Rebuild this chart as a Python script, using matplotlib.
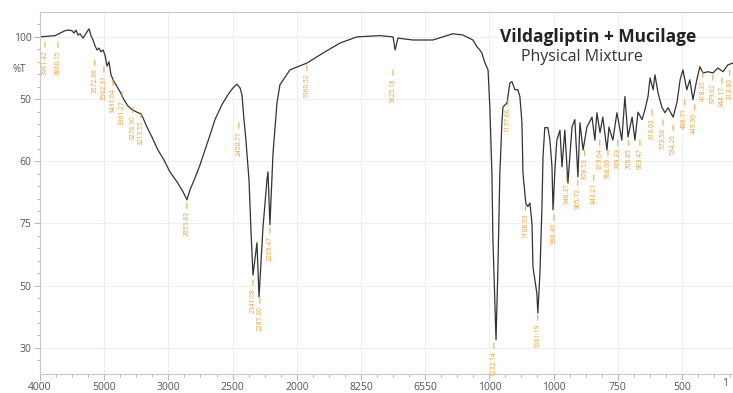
import numpy as np
import matplotlib.pyplot as plt

plt.rcParams['font.family'] = ['Open Sans', 'DejaVu Sans']

# spectrum (wavenumber in 1/cm, transmittance in %T)
wavenumber = [4000, 3883, 3844, 3805, 3782, 3751, 3735, 3720, 3704, 3688, 3665, 3650, 3634, 3618,
              3603, 3587, 3572, 3556, 3541, 3525, 3509, 3494, 3478, 3463, 3447, 3431, 3408, 3377,
              3346, 3315, 3283, 3245, 3213, 3198, 3167, 3128, 3081, 3034, 2988, 2933, 2886, 2855,
              2832, 2793, 2754, 2715, 2676, 2637, 2583, 2536, 2497, 2466, 2442, 2427, 2411, 2396,
              2372, 2357, 2341, 2310, 2294, 2263, 2232, 2224, 2209, 2185, 2154, 2131, 2053, 1960,
              1898, 1832, 1766, 1676, 1625, 1617, 1606, 1548, 1470, 1392, 1353, 1314, 1298, 1287,
              1279, 1267, 1255, 1248, 1240, 1236, 1228, 1224, 1217, 1209, 1201, 1197, 1181, 1170,
              1162, 1150, 1139, 1131, 1123, 1119, 1108, 1100, 1092, 1084, 1080, 1065, 1061, 1053,
              1045, 1041, 1034, 1022, 1014, 1006, 1002, 994, 987, 975, 967, 956, 944, 928,
              917, 905, 897, 885, 870, 850, 839, 831, 819, 808, 792, 784, 769, 753,
              734, 722, 710, 694, 683, 671, 655, 644, 632, 624, 612, 605, 593, 578,
              566, 554, 534, 519, 507, 496, 481, 469, 457, 442, 430, 418, 399, 379,
              360, 340, 321, 301]
transmittance = [100.0, 100.2, 100.6, 101.0, 101.1, 101.0, 100.6, 101.1, 100.3, 100.5, 99.8, 100.3, 100.8, 101.3,
                 100.2, 99.5, 98.6, 97.9, 98.2, 97.6, 97.9, 97.1, 95.3, 96.0, 93.9, 93.1, 92.3, 91.2,
                 89.9, 88.9, 88.3, 87.9, 87.6, 87.0, 85.5, 83.9, 81.8, 80.2, 78.3, 76.7, 75.1, 73.8,
                 75.4, 77.3, 79.4, 81.8, 84.2, 86.7, 89.1, 90.7, 91.8, 92.4, 91.8, 90.7, 86.7, 83.4,
                 77.0, 69.0, 61.7, 66.9, 58.2, 69.4, 77.0, 78.3, 69.8, 81.3, 89.4, 92.3, 94.7, 95.8,
                 97.4, 99.0, 100.0, 100.2, 100.0, 97.9, 99.8, 99.5, 99.5, 100.5, 100.3, 99.5, 98.4, 97.9,
                 97.4, 95.8, 94.7, 88.7, 78.1, 67.4, 56.6, 51.3, 62.0, 78.1, 86.2, 88.7, 89.4, 92.6,
                 92.8, 91.5, 91.5, 90.4, 86.2, 78.1, 73.3, 72.7, 73.3, 70.1, 63.0, 58.8, 55.6, 62.0,
                 72.7, 80.7, 85.4, 85.4, 83.4, 79.1, 72.2, 79.1, 83.4, 85.0, 79.1, 85.0, 76.5, 85.5,
                 86.7, 77.5, 86.2, 81.8, 85.5, 87.1, 83.4, 87.8, 84.6, 87.1, 81.8, 85.5, 83.4, 87.8,
                 83.4, 90.4, 83.9, 87.1, 83.4, 87.9, 86.7, 88.3, 90.4, 93.4, 91.5, 93.9, 91.0, 88.7,
                 87.8, 88.6, 87.1, 89.5, 93.1, 94.7, 91.5, 93.1, 89.9, 93.1, 95.2, 94.2, 94.4, 94.2,
                 95.0, 94.4, 95.5, 95.8]

# peak markers (position and where the marker line starts)
peak_wn = [3961.42, 3860.15, 3572.86, 3502.31, 3431.64, 3361.27, 3276.90, 3213.55, 2855.83,
           2450.71, 2341.08, 2287.30, 2209.47, 1960.52, 1625.18, 1232.14, 1177.66, 1108.93,
           1061.19, 998.40, 948.37, 905.72, 878.55, 843.21, 819.64, 788.09, 749.33, 706.85,
           663.47, 616.02, 573.58, 534.26, 488.71, 449.90, 418.35, 379.62, 344.17, 313.80]
peak_top = [99.2, 99.2, 96.3, 95.2, 93.1, 91.2, 88.7, 87.9, 73.3,
            86.2, 60.9, 58.0, 69.3, 95.5, 94.7, 50.8, 89.9, 73.0,
            55.3, 71.4, 77.8, 77.0, 81.8, 77.8, 83.4, 81.8, 83.4, 83.4,
            83.4, 88.3, 86.7, 85.8, 89.9, 89.1, 94.4, 93.9, 93.4, 94.7]

x_ticks = [4000, 3500, 3000, 2500, 2000, 1750, 1500, 1250, 1000, 750, 500]
x_tick_labels = ["4000", "5000", "3000", "2500", "2000", "8250", "6550", "1000", "1000", "750", "500"]
y_ticks = [100, 90, 80, 70, 60, 50]
y_tick_labels = ["100", "50", "60", "75", "50", "30"]


def wn_forward(w):
    # 500 per major step above 2000, 250 per step below (expanded region)
    w = np.asarray(w, dtype=float)
    return np.where(w >= 2000, (w - 4000) / 500, (w - 2000) / 250 - 4)


def wn_inverse(p):
    p = np.asarray(p, dtype=float)
    return np.where(p >= -4, 4000 + 500 * p, 2000 + 250 * (p + 4))


orange = '#e6a035'

fig = plt.figure(figsize=(7.33, 3.93), dpi=100)
ax = fig.add_axes([40 / 733, 19 / 393, 693 / 733, 362 / 393])
ax.set_xscale('function', functions=(wn_forward, wn_inverse))

ax.plot(wavenumber, transmittance, color='#333333', lw=0.9)

for w, top in zip(peak_wn, peak_top):
    ax.annotate(f"{w:.2f}", xy=(w, top), xytext=(0, -6), textcoords='offset points',
                rotation=90, ha='center', va='top', fontsize=4.8, color=orange,
                annotation_clip=False,
                arrowprops=dict(arrowstyle='-', color=orange, lw=0.7, shrinkA=0, shrinkB=0))

ax.set_xlim(4000, 301)
ax.set_ylim(45.8, 104.0)

ax.set_xticks(x_ticks)
ax.set_xticklabels(x_tick_labels)
minor_x = np.concatenate([np.arange(4000, 2000, -125), np.arange(2000, 300, -62.5)])
ax.set_xticks(minor_x, minor=True)
ax.set_yticks(y_ticks)
ax.set_yticklabels(y_tick_labels)
ax.set_yticks(np.arange(48, 104, 2), minor=True)

ax.tick_params(which='both', colors='#aaaaaa', labelcolor='#555555', labelsize=7.5, width=0.6)
ax.tick_params(which='major', length=4, pad=2)
ax.tick_params(which='minor', length=2)
ax.grid(True, which='major', color='#efefef', lw=0.8)
ax.set_axisbelow(True)

for side in ['left', 'bottom', 'top']:
    ax.spines[side].set_color('#c8c8c8')
    ax.spines[side].set_linewidth(0.8)
ax.spines['right'].set_visible(False)

fig.text(19 / 733, 1 - 70 / 393, "%T", fontsize=7, color='#555555', ha='center', va='center')
fig.text(725 / 733, 1 - 383 / 393, "1", fontsize=7.5, color='#555555', ha='center', va='center')

fig.text(598 / 733, 1 - 37 / 393, "Vildagliptin + Mucilage", fontsize=12.5, fontweight='bold',
         color='#222222', ha='center', va='center')
fig.text(582 / 733, 1 - 57 / 393, "Physical Mixture", fontsize=11.5, color='#333333',
         ha='center', va='center')

fig.savefig('out.png', dpi=100)
